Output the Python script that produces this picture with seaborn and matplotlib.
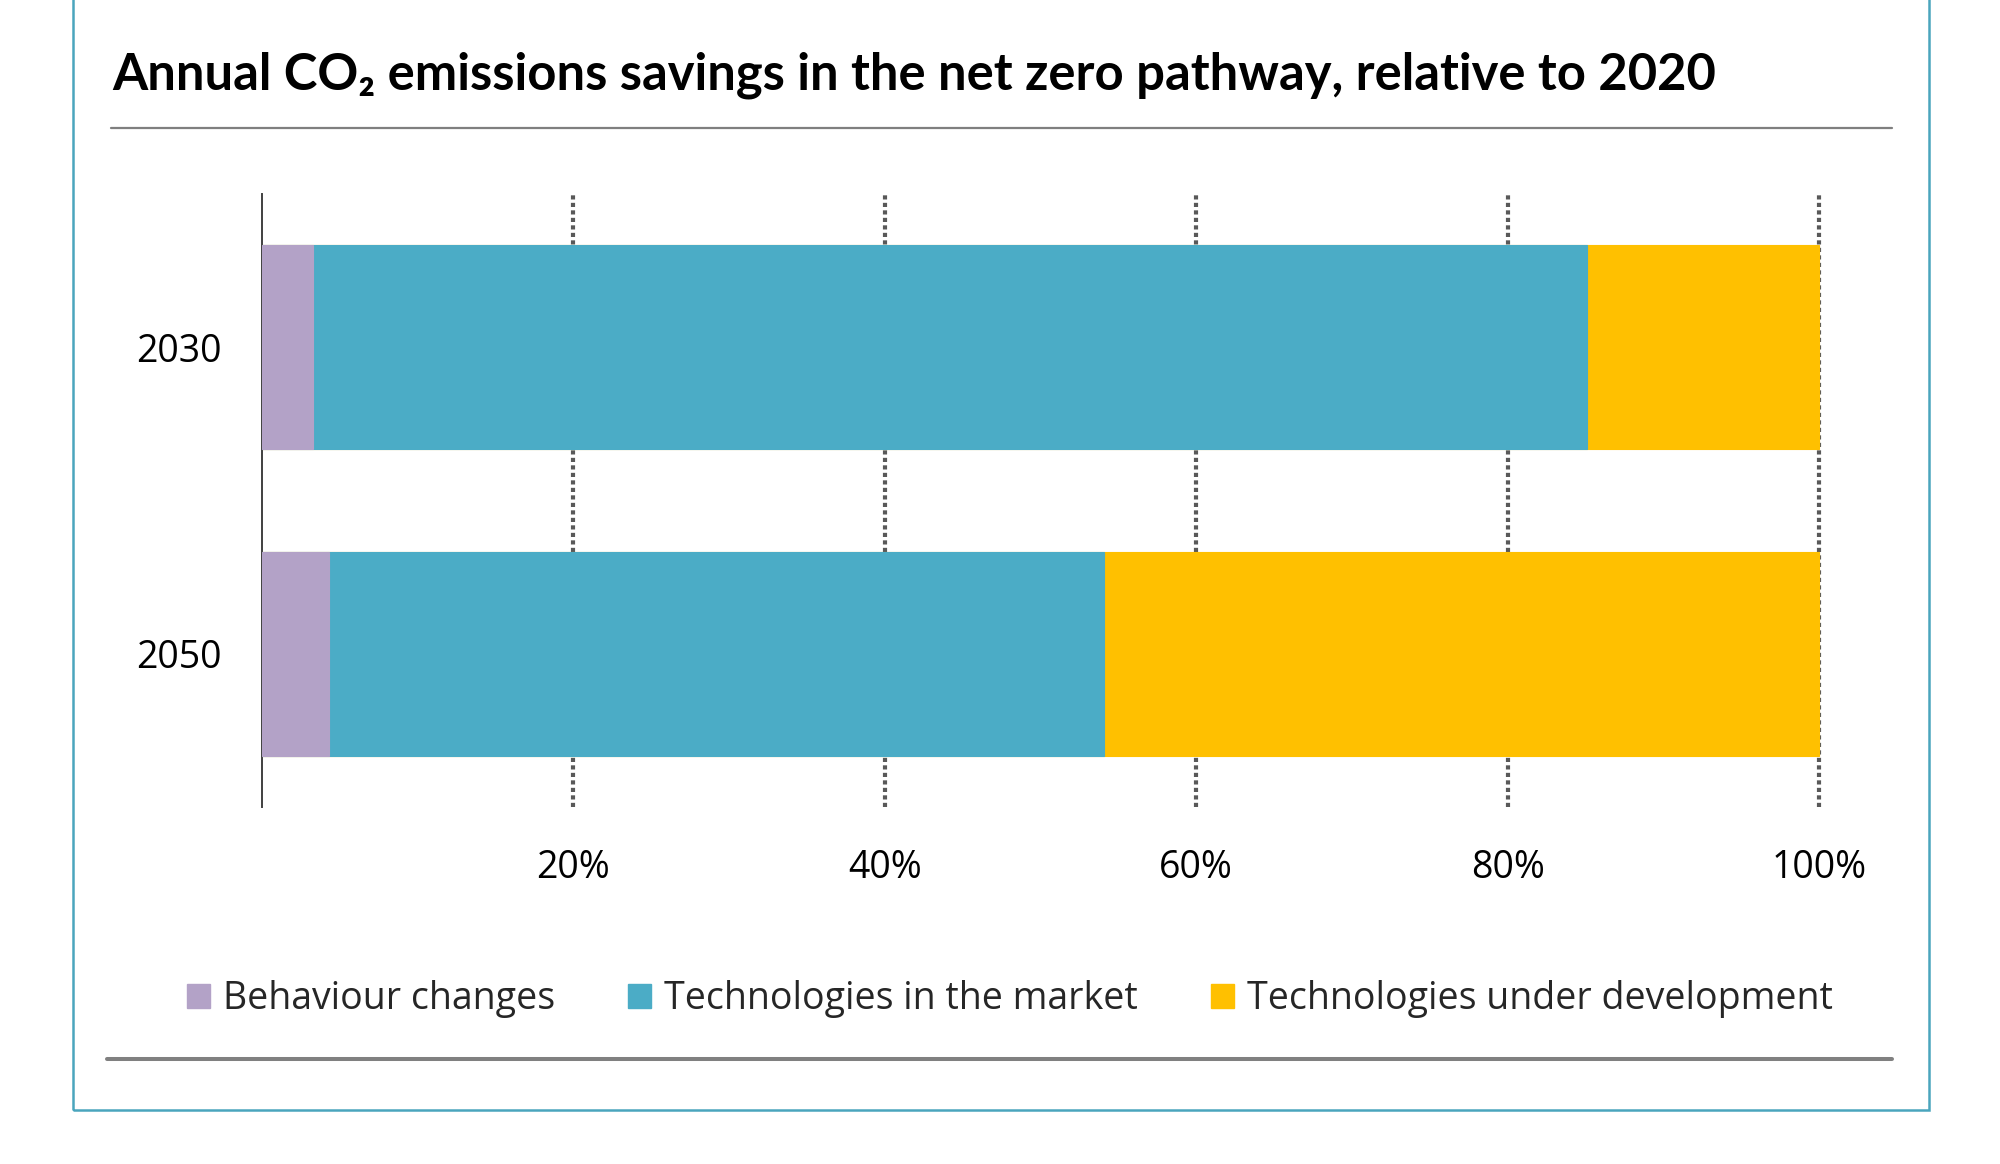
import matplotlib
matplotlib.use('Agg')
import matplotlib.pyplot as plt
import matplotlib.patches as mpatches
from matplotlib.lines import Line2D
import seaborn as sns
import pandas as pd
import numpy as np

years = ['2030', '2050']
categories = ['Behaviour changes', 'Technologies in the market', 'Technologies under development']
behaviour = [3.3, 4.3]
in_market = [81.8, 49.8]
under_dev = [14.9, 45.9]
tick_values = [20, 40, 60, 80, 100]
tick_labels = ['20%', '40%', '60%', '80%', '100%']
colors = ['#B3A2C7', '#4BACC6', '#FFC000']

sns.set_theme(style='white')
plt.rcParams['font.family'] = ['Open Sans', 'DejaVu Sans']

df = pd.DataFrame({'year': years, categories[0]: behaviour,
                   categories[1]: in_market, categories[2]: under_dev})
# cumulative shares (fraction of total) for the stacked bars
parts = df[categories].to_numpy()
cum = np.cumsum(parts, axis=1) / 100.0

fig = plt.figure(figsize=(20, 11.64), dpi=100)
ax = fig.add_axes([0.131, 0.3067, 0.7863, 0.5266])

# draw from the outermost stack inwards so each layer shows
for i in range(len(categories) - 1, -1, -1):
    layer = pd.DataFrame({'year': years, 'val': cum[:, i]})
    sns.barplot(data=layer, x='val', y='year', orient='h', color=colors[i],
                saturation=1, width=0.665, edgecolor=colors[i], linewidth=0.8,
                ax=ax, zorder=3)

ax.set_xlim(0, 1.01)
ax.set_ylim(1.5, -0.5)
ax.set_xticks([v / 100 for v in tick_values])
ax.set_xticklabels(tick_labels)
ax.xaxis.grid(True, linestyle=(0, (1, 0.8)), color='#595959', linewidth=3.0, zorder=0)
ax.yaxis.grid(False)
ax.set_axisbelow(True)
for s in ['top', 'right', 'bottom']:
    ax.spines[s].set_visible(False)
ax.spines['left'].set_color('#404040')
ax.spines['left'].set_linewidth(1.4)
ax.tick_params(axis='both', length=0, labelsize=27, colors='black')
ax.tick_params(axis='y', pad=29)
ax.tick_params(axis='x', pad=30)
ax.set_xlabel('')
ax.set_ylabel('')

fig.text(0.056, 0.9235, 'Annual CO₂ emissions savings in the net zero pathway, relative to 2020',
         fontsize=36.5, fontweight='bold', family=['Lato', 'DejaVu Sans'],
         va='baseline', ha='left', color='black')

fig.add_artist(Line2D([0.0555, 0.946], [0.890, 0.890], color='#7F7F7F', linewidth=1.6))
fig.add_artist(Line2D([0.0535, 0.946], [0.0902, 0.0902], color='#808080', linewidth=2.9))
fig.add_artist(mpatches.Rectangle((0.0365, 0.0464), 0.928, 1.0, fill=False,
                                  edgecolor='#4AA5BD', linewidth=1.8))

handles = [mpatches.Patch(facecolor=c, edgecolor=c, label=l) for c, l in zip(colors, categories)]
fig.legend(handles=handles, loc='center', bbox_to_anchor=(0.505, 0.1415), ncol=3,
           frameon=False, fontsize=27, handlelength=0.61, handleheight=0.61,
           handletextpad=0.35, columnspacing=1.95)

fig.savefig('out.png', dpi=100)
